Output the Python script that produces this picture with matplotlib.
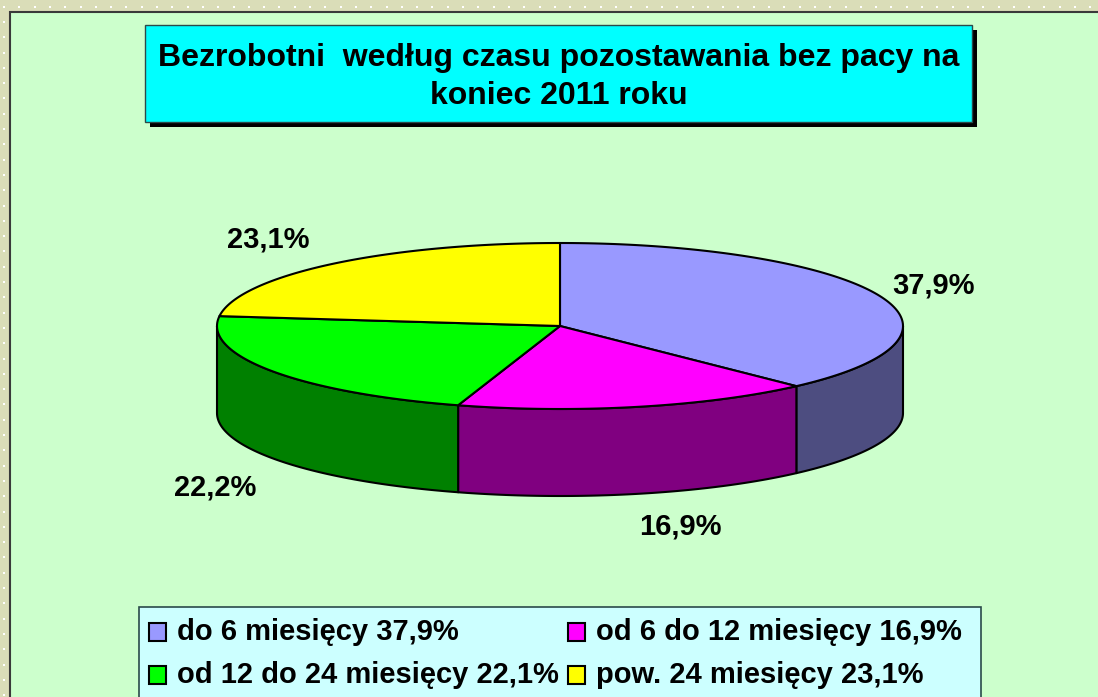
import numpy as np
import matplotlib
matplotlib.use("Agg")
import matplotlib.pyplot as plt
from matplotlib.patches import Rectangle, Polygon

plt.rcParams['font.family'] = ['Liberation Sans', 'DejaVu Sans']

# data
title = "Bezrobotni  według czasu pozostawania bez pacy na\nkoniec 2011 roku"
categories = ["do 6 miesięcy", "od 6 do 12 miesięcy", "od 12 do 24 miesięcy", "pow. 24 miesięcy"]
shares = [37.9, 16.9, 22.1, 23.1]
pie_labels = ["37,9%", "16,9%", "22,2%", "23,1%"]
legend_values = ["37,9%", "16,9%", "22,1%", "23,1%"]

# styles
top_colors = ["#9999FF", "#FF00FF", "#00FF00", "#FFFF00"]
side_colors = ["#4D4D80", "#800080", "#008000", "#808000"]
label_offsets = [(55, -10), (42, 33), (-57, 29), (-64, -24)]

W, H = 1098, 697
fig = plt.figure(figsize=(W / 100, H / 100), dpi=100)
fig.patch.set_facecolor("#DADDB8")
ax = fig.add_axes([0, 0, 1, 1])
ax.set_xlim(0, W)
ax.set_ylim(H, 0)
ax.axis("off")

# dotted frame
xs = np.arange(4, W, 15.3)
ax.scatter(xs, np.full_like(xs, 7), s=2.5, c="white", marker="s", lw=0, zorder=1)
ys = np.arange(22, H, 15.3)
ax.scatter(np.full_like(ys, 4), ys, s=2.5, c="white", marker="s", lw=0, zorder=1)

# plot area
ax.add_patch(Rectangle((10, 12), W, H, facecolor="#CCFFCC", edgecolor="#3A3A3A", lw=1.5, zorder=2))

# title box
ax.add_patch(Rectangle((150, 30), 827, 97, facecolor="black", edgecolor="none", zorder=3))
ax.add_patch(Rectangle((145, 25), 827, 97, facecolor="#00FFFF", edgecolor="#2A4A4A", lw=1, zorder=4))
ax.text(559, 77, title, ha="center", va="center", fontsize=23, fontweight="bold",
        linespacing=1.32, zorder=5)

# 3d pie
cx, cy, rx, ry, depth = 560, 326, 343, 83, 87


def rim(a, b, n=120):
    t = np.radians(np.linspace(a, b, n))
    return cx + rx * np.sin(t), cy - ry * np.cos(t)


bounds = np.concatenate([[0], np.cumsum(shares) / sum(shares) * 360])

# side walls (front half only: 90..270 deg clockwise from top)
for i in range(len(shares)):
    a, b = max(bounds[i], 90), min(bounds[i + 1], 270)
    if a >= b:
        continue
    x, y = rim(a, b)
    pts = np.column_stack([np.concatenate([x, x[::-1]]), np.concatenate([y, y[::-1] + depth])])
    ax.add_patch(Polygon(pts, closed=True, facecolor=side_colors[i], edgecolor="black",
                         lw=1.5, joinstyle="round", zorder=6))

# top face
for i in range(len(shares)):
    x, y = rim(bounds[i], bounds[i + 1])
    pts = np.column_stack([np.concatenate([[cx], x]), np.concatenate([[cy], y])])
    ax.add_patch(Polygon(pts, closed=True, facecolor=top_colors[i], edgecolor="black",
                         lw=1.5, joinstyle="round", zorder=7))

# slice labels
for i, lab in enumerate(pie_labels):
    mid = np.radians((bounds[i] + bounds[i + 1]) / 2)
    lx = cx + rx * np.sin(mid)
    ly = cy - ry * np.cos(mid)
    if np.cos(mid) < 0:
        ly += depth
    dx, dy = label_offsets[i]
    ax.text(lx + dx, ly + dy, lab, ha="center", va="center", fontsize=21,
            fontweight="bold", zorder=8)

# legend
ax.add_patch(Rectangle((139, 607), 842, 120, facecolor="#CCFFFF", edgecolor="#2A4A4A", lw=1.2, zorder=3))
col_x = [149, 568]
row_y = [632, 675]
for i, (cat, val) in enumerate(zip(categories, legend_values)):
    x0 = col_x[i % 2]
    y0 = row_y[i // 2]
    ax.add_patch(Rectangle((x0, y0 - 9), 17, 18, facecolor=top_colors[i], edgecolor="black",
                           lw=1.5, zorder=5))
    ax.text(x0 + 28, y0, f"{cat} {val}", ha="left", va="center", fontsize=21,
            fontweight="bold", zorder=5)

fig.savefig("out.png", dpi=100, facecolor=fig.get_facecolor())
